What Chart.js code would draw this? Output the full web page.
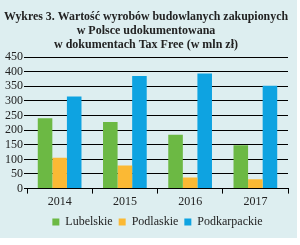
<!DOCTYPE html>
<html>
<head>
<meta charset="utf-8">
<script src="https://cdn.jsdelivr.net/npm/chart.js@4/dist/chart.umd.min.js"></script>
<style>
  html, body { margin: 0; padding: 0; background: #ffffff; }
  #wrap { position: relative; width: 297px; height: 238px; background: #ddeef0; }
  #chart { position: absolute; left: 0; top: 0; }
</style>
</head>
<body>
<div id="wrap"><canvas id="chart" width="297" height="238"></canvas></div>
<script>
// dane (mln zł)
const years = ['2014', '2015', '2016', '2017'];
const lubelskie = [241, 228, 184, 148];
const podlaskie = [106, 79, 38, 32];
const podkarpackie = [315, 385, 394, 352];
const yTicks = [0, 50, 100, 150, 200, 250, 300, 350, 400, 450];

const serif = '"Liberation Serif", "DejaVu Serif", serif';

// legenda wyśrodkowana względem obszaru wykresu, nie całego płótna
const centerLegend = {
    id: 'centerLegend',
    afterLayout(chart) {
        const lg = chart.legend;
        if (!lg) return;
        const shift = (chart.chartArea.left + chart.chartArea.right) / 2 - (lg.left + lg.right) / 2;
        lg.left += shift;
        lg.right += shift;
    }
};

const ctx = document.getElementById('chart').getContext('2d');
new Chart(ctx, {
    type: 'bar',
    data: {
        labels: years,
        datasets: [
            { label: 'Lubelskie', data: lubelskie, backgroundColor: '#6cb944' },
            { label: 'Podlaskie', data: podlaskie, backgroundColor: '#fbb934' },
            { label: 'Podkarpackie', data: podkarpackie, backgroundColor: '#0ea3e1' }
        ]
    },
    plugins: [centerLegend],
    options: {
        responsive: false,
        animation: false,
        devicePixelRatio: 1,
        datasets: { bar: { categoryPercentage: 0.67, barPercentage: 1.0 } },
        layout: { padding: { left: 4, right: 9, top: 10, bottom: 0 } },
        plugins: {
            title: {
                display: true,
                text: ['Wykres 3. Wartość wyrobów budowlanych zakupionych',
                       'w Polsce udokumentowana',
                       'w dokumentach Tax Free (w mln zł)'],
                color: '#222',
                font: { family: serif, size: 12, weight: 'bold', lineHeight: 1.17 },
                padding: { top: 0, bottom: 5 }
            },
            legend: {
                position: 'bottom',
                labels: {
                    color: '#222',
                    font: { family: serif, size: 12 },
                    boxWidth: 7,
                    boxHeight: 7,
                    padding: 6
                }
            },
            tooltip: { enabled: false }
        },
        scales: {
            x: {
                grid: {
                    offset: true,
                    drawOnChartArea: false,
                    drawTicks: true,
                    tickLength: 5,
                    color: '#000'
                },
                border: { color: '#000', width: 1 },
                ticks: { color: '#222', font: { family: serif, size: 12 }, padding: 1 }
            },
            y: {
                min: 0,
                max: 450,
                afterBuildTicks: (axis) => { axis.ticks = yTicks.map(v => ({ value: v })); },
                grid: { color: '#000', lineWidth: 1, tickLength: 3 },
                border: { display: false },
                ticks: { color: '#222', font: { family: serif, size: 12 }, padding: 1, autoSkip: false }
            }
        }
    }
});
</script>
</body>
</html>
